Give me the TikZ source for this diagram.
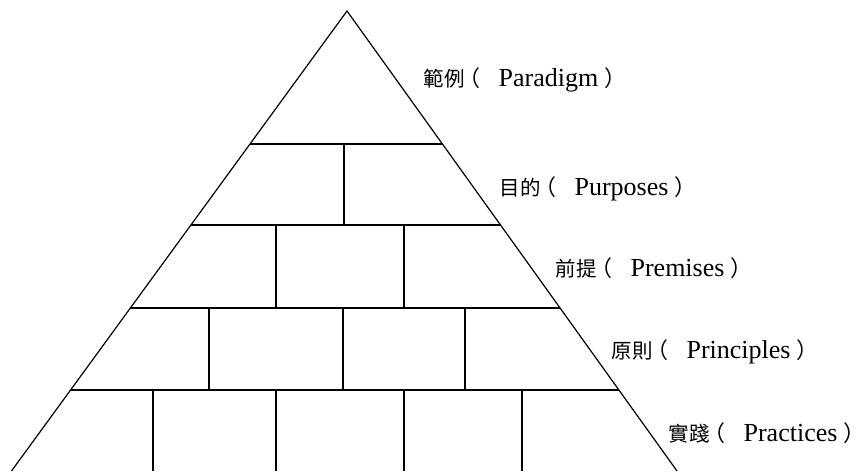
\documentclass[tikz,border=0pt]{standalone}
\usepackage{fontspec}
\setmainfont{Liberation Serif}
\newfontfamily\cjkfont{Noto Sans CJK TC}
\usetikzlibrary{calc}
\newcommand\pyrlab[2]{{\cjkfont\fontsize{20.5}{24}\selectfont #1\hspace{-6pt}{\fontsize{22}{24}\selectfont （}}\hspace{18pt}#2\hspace{6pt}{\cjkfont\fontsize{22}{24}\selectfont ）}}
\begin{document}
\begin{tikzpicture}[x=1pt,y=-1pt,line width=1.2pt,
  lab/.style={anchor=base west,inner sep=0pt,font=\fontsize{26}{30}\selectfont}]
\useasboundingbox (0,0) rectangle (866,471);
\coordinate (A) at (347,11);
\coordinate (BL) at (11.5,471);
\coordinate (BR) at (677,471);
\draw (BL) -- (A) -- (BR);
% horizontal courses
\foreach \t in {0.28913,0.46522,0.64565,0.82391}
  \draw ($(A)!\t!(BL)$) -- ($(A)!\t!(BR)$);
% row 2
\draw (344,144) -- (344,225);
% row 3
\foreach \x in {276,404} \draw (\x,225) -- (\x,308);
% row 4
\foreach \x in {209,343,465} \draw (\x,308) -- (\x,390);
% row 5
\foreach \x in {153,276,404,522} \draw (\x,390) -- (\x,471);
% labels
\node[lab] (l1) at (423,86) {\pyrlab{範例}{Paradigm}};
\node[lab] (l2) at (499,195) {\pyrlab{目的}{Purposes}};
\node[lab] (l3) at (555,276) {\pyrlab{前提}{Premises}};
\node[lab] (l4) at (611,358) {\pyrlab{原則}{Principles}};
\node[lab] (l5) at (668,441) {\pyrlab{實踐}{Practices}};
\end{tikzpicture}
\end{document}
